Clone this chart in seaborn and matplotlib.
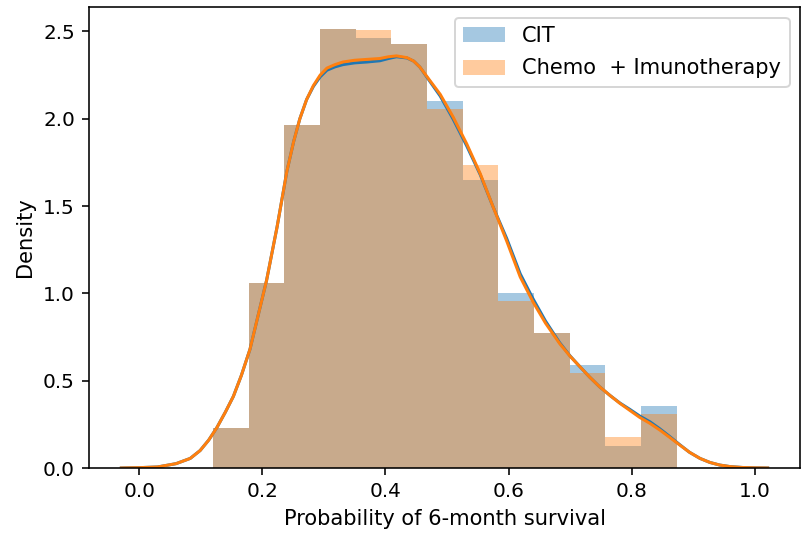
import numpy as np
import pandas as pd
import matplotlib
matplotlib.use("Agg")
import matplotlib.pyplot as plt
import seaborn as sns

# Histogram binning shared by both groups
bin_lo, bin_hi, n_bins = 0.120, 0.873, 13

# Density per bin for each group
cit_density = [0.227, 1.057, 1.966, 2.515, 2.464, 2.430, 2.100,
               1.648, 1.003, 0.772, 0.589, 0.128, 0.357]
chemo_density = [0.227, 1.057, 1.966, 2.515, 2.511, 2.430, 2.054,
                 1.733, 0.955, 0.772, 0.542, 0.176, 0.309]

# Kernel density estimates evaluated along the survival probability axis
kde_x = [-0.029, 0.000, 0.030, 0.060, 0.083, 0.099, 0.113, 0.126, 0.140,
         0.153, 0.166, 0.180, 0.193, 0.207, 0.224, 0.240, 0.251, 0.261,
         0.272, 0.283, 0.294, 0.305, 0.318, 0.331, 0.350, 0.370, 0.391,
         0.405, 0.418, 0.435, 0.446, 0.456, 0.472, 0.489, 0.510, 0.532,
         0.554, 0.575, 0.597, 0.619, 0.640, 0.660, 0.683, 0.700, 0.716,
         0.732, 0.748, 0.765, 0.781, 0.797, 0.813, 0.830, 0.846, 0.862,
         0.878, 0.894, 0.911, 0.927, 0.943, 0.960, 0.980, 1.000, 1.021]
chemo_kde = [0.000, 0.002, 0.006, 0.025, 0.055, 0.100, 0.160, 0.230, 0.320,
             0.410, 0.530, 0.680, 0.870, 1.075, 1.380, 1.700, 1.870, 2.000,
             2.110, 2.190, 2.250, 2.290, 2.310, 2.325, 2.335, 2.340, 2.345,
             2.355, 2.360, 2.350, 2.330, 2.296, 2.220, 2.140, 2.010, 1.857,
             1.686, 1.495, 1.300, 1.094, 0.950, 0.830, 0.713, 0.640, 0.580,
             0.520, 0.465, 0.415, 0.370, 0.330, 0.290, 0.255, 0.217, 0.175,
             0.132, 0.090, 0.055, 0.032, 0.017, 0.008, 0.003, 0.001, 0.000]
cit_kde = [0.000, 0.002, 0.006, 0.025, 0.055, 0.100, 0.160, 0.230, 0.320,
           0.410, 0.530, 0.680, 0.870, 1.075, 1.380, 1.700, 1.870, 2.000,
           2.110, 2.185, 2.240, 2.278, 2.297, 2.310, 2.320, 2.325, 2.332,
           2.345, 2.355, 2.348, 2.330, 2.296, 2.215, 2.130, 1.998, 1.845,
           1.680, 1.495, 1.315, 1.112, 0.968, 0.842, 0.718, 0.642, 0.580,
           0.520, 0.465, 0.415, 0.372, 0.336, 0.298, 0.264, 0.224, 0.180,
           0.134, 0.090, 0.055, 0.032, 0.017, 0.008, 0.003, 0.001, 0.000]

groups = ["CIT", "Chemo  + Imunotherapy"]
colors = ["#1f77b4", "#ff7f0e"]

edges = np.linspace(bin_lo, bin_hi, n_bins + 1)
centers = (edges[:-1] + edges[1:]) / 2

fig = plt.figure(figsize=(803 / 144, 539 / 144), dpi=144)
ax = fig.add_axes([89 / 803, 71 / 539, 711 / 803, 461 / 539])

for name, dens, kde, col in zip(groups, [cit_density, chemo_density],
                                [cit_kde, chemo_kde], colors):
    hist_df = pd.DataFrame({"x": centers, "w": dens})
    sns.histplot(data=hist_df, x="x", weights="w", bins=n_bins,
                 binrange=(bin_lo, bin_hi), stat="count",
                 color=col, alpha=0.4, linewidth=0, ax=ax, label=name)
    kde_df = pd.DataFrame({"x": kde_x, "y": kde})
    sns.lineplot(data=kde_df, x="x", y="y", color=col, linewidth=1.5,
                 sort=False, ax=ax)

ax.set_xlim(-0.0815, 1.0735)
ax.set_ylim(0, 2.64)
ax.set_xlabel("Probability of 6-month survival", fontsize=10.5)
ax.set_ylabel("Density", fontsize=10.5)
ax.legend(loc="upper right", fontsize=10.5, labelspacing=0.6)

fig.savefig("out.png", dpi=144)
